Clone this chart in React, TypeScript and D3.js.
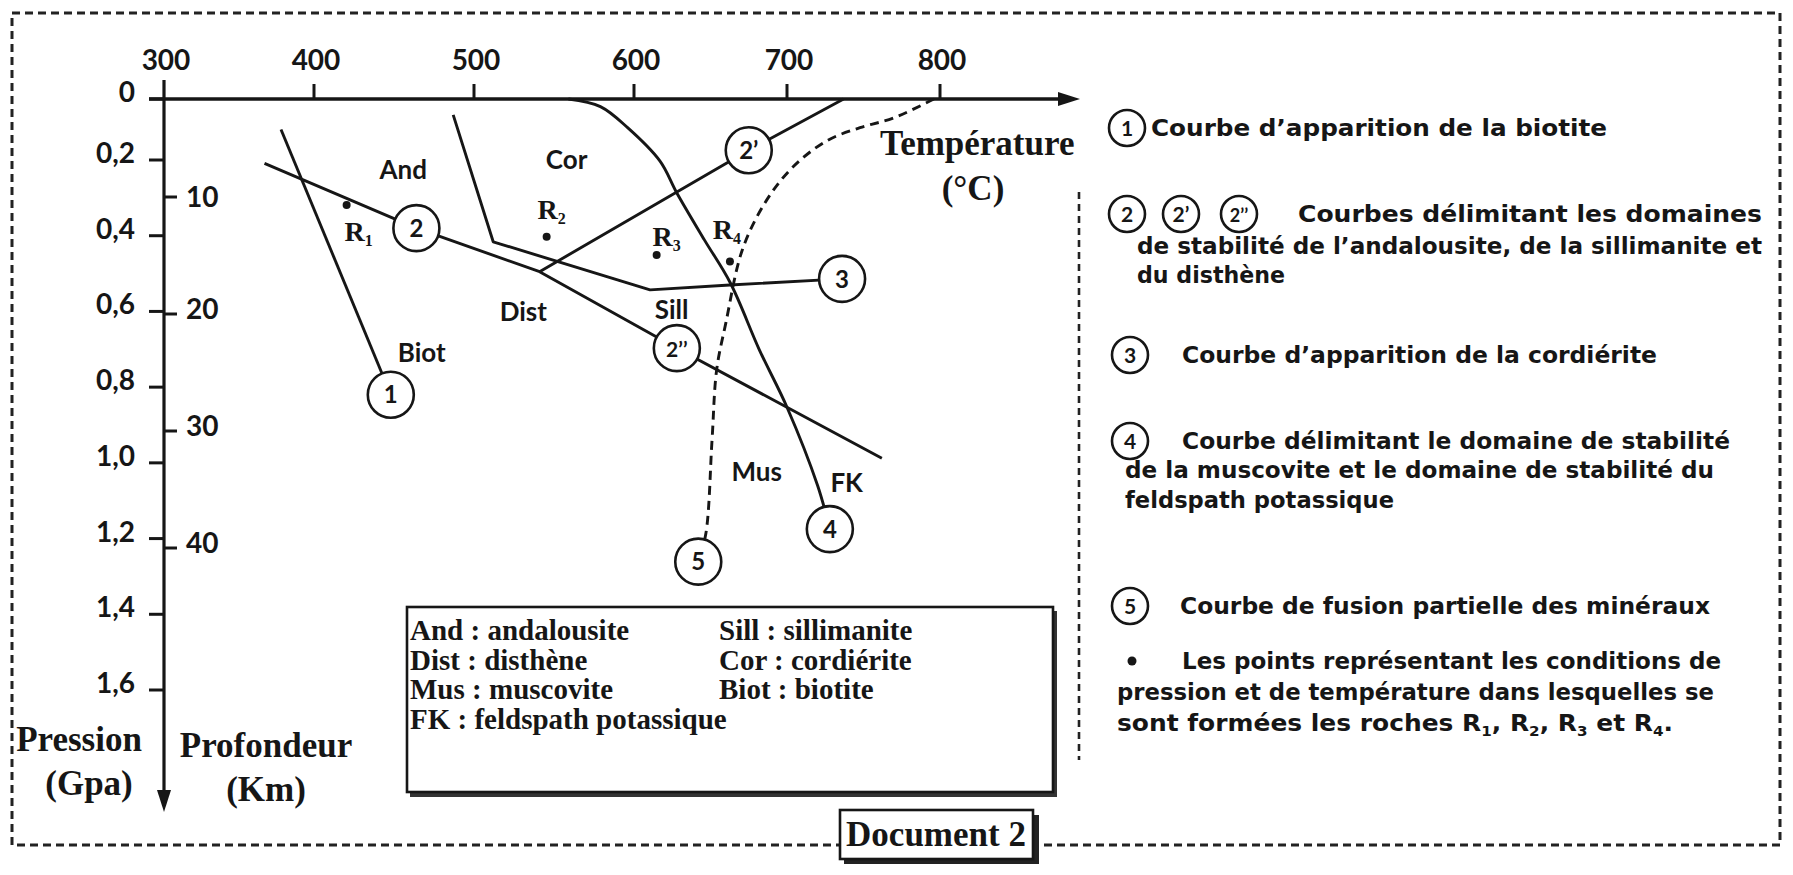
import React from "react";
import * as d3 from "d3";

const W = 1793;
const H = 875;

// ---------- data ----------
const tempTicks = [300, 400, 500, 600, 700, 800];
const pressureTicks = [0, 0.2, 0.4, 0.6, 0.8, 1.0, 1.2, 1.4, 1.6];
const pressureLabels = ["0", "0,2", "0,4", "0,6", "0,8", "1,0", "1,2", "1,4", "1,6"];
const depthTicks = [10, 20, 30, 40];

// curves: [temperature °C, pressure GPa]
const curve1: [number, number][] = [[378, 0.1], [448, 0.82]];
const curve2: [number, number][] = [[367, 0.209], [464, 0.38], [541, 0.495], [628, 0.697], [762, 0.988]];
const curve2p: [number, number][] = [[541, 0.495], [675, 0.168], [737, 0]];
const curve3: [number, number][] = [[487, 0.052], [512, 0.416], [610.5, 0.543], [662.7, 0.53], [736, 0.514]];
const curve4: [number, number][] = [[559, 0], [579, 0.025], [596, 0.094], [617, 0.203], [628, 0.287], [646, 0.411], [663, 0.525], [682, 0.702], [700, 0.853], [720, 1.06], [728, 1.175]];
const curve5: [number, number][] = [[796, 0], [769.5, 0.0625], [747.7, 0.094], [726, 0.137], [704, 0.218], [686.7, 0.306], [671, 0.435], [660, 0.631], [654, 0.755], [651, 0.94], [647, 1.186], [642, 1.261]];

const curveTags = ["1", "2", "2\u2019", "2\u2019\u2019", "3", "4", "5"];
const tagT = [448, 464, 675, 628, 736, 728, 642];
const tagP = [0.82, 0.38, 0.168, 0.697, 0.514, 1.175, 1.261];

const regionNames = ["And", "Cor", "Dist", "Sill", "Biot", "Mus", "FK"];
const regionT = [455.8, 557.9, 530.8, 624.6, 467.3, 680.2, 739];
const regionP = [0.226, 0.2, 0.601, 0.596, 0.711, 1.023, 1.054];

const rockIds = ["1", "2", "3", "4"];
const rockT = [420.4, 545.4, 614.8, 662.7];
const rockP = [0.319, 0.403, 0.451, 0.468];

const glossaryLeft = [["And", "andalousite"], ["Dist", "disthène"], ["Mus", "muscovite"], ["FK", "feldspath potassique"]];
const glossaryRight = [["Sill", "sillimanite"], ["Cor", "cordiérite"], ["Biot", "biotite"]];

const notes = [
  "Courbe d\u2019apparition de la biotite",
  "Courbes délimitant les domaines",
  "de stabilité de l\u2019andalousite, de la sillimanite et",
  "du disthène",
  "Courbe d\u2019apparition de la cordiérite",
  "Courbe délimitant le domaine de stabilité",
  "de la muscovite et le domaine de stabilité du",
  "feldspath potassique",
  "Courbe de fusion partielle des minéraux",
  "Les points représentant les conditions de",
  "pression et de température dans lesquelles se",
];

// ---------- layout ----------
const noteLayout = [
  { y: 128, x: 1151, x2: 1607, tags: ["1"], tx: [1127] },
  { y: 214, x: 1298, x2: 1762, tags: ["2", "2\u2019", "2\u2019\u2019"], tx: [1127, 1181, 1239] },
  { y: 246, x: 1137, x2: 1762 },
  { y: 275, x: 1137, x2: 1285 },
  { y: 355, x: 1182, x2: 1657, tags: ["3"], tx: [1130] },
  { y: 441, x: 1182, x2: 1730, tags: ["4"], tx: [1130] },
  { y: 470, x: 1125, x2: 1714 },
  { y: 500, x: 1125, x2: 1394 },
  { y: 606, x: 1180, x2: 1710, tags: ["5"], tx: [1130] },
  { y: 661, x: 1182, x2: 1721, bullet: 1132 },
  { y: 692, x: 1117, x2: 1714 },
];
const lastNoteY = 723;
const rockLabelDx = [12, 5, 10, -3];
const rockLabelDy = [27, -27, -18, -31];

const SERIF = "'Liberation Serif', 'Times New Roman', serif";
const SANS = "Lato, 'Open Sans', sans-serif";
const NOTE = "'DejaVu Sans', 'Open Sans', sans-serif";
const INK = "#161616";

const x = d3.scaleLinear().domain(tempTicks).range([164, 314, 474, 634, 787, 940]);
const y = d3.scaleLinear().domain([0, 0.2, 1.6]).range([99, 160, 690]);
const yDepth = d3.scaleLinear().domain([10, 40]).range([197, 548]);

const lin = d3.line<[number, number]>().x((d) => x(d[0])).y((d) => y(d[1]));
const smooth = d3
  .line<[number, number]>()
  .x((d) => x(d[0]))
  .y((d) => y(d[1]))
  .curve(d3.curveCatmullRom.alpha(0.5));

function Tag({ cx, cy, label, r = 23, fs = 24 }: { cx: number; cy: number; label: string; r?: number; fs?: number }) {
  return (
    <g>
      <circle cx={cx} cy={cy} r={r} fill="#fff" stroke={INK} strokeWidth={2.6} />
      <text x={cx} y={cy + fs * 0.36} textAnchor="middle" fontFamily={SANS} fontWeight={700} fontSize={label.length > 2 ? fs - 3 : fs} fill={INK}>
        {label}
      </text>
    </g>
  );
}

export default function App() {
  const axisY = y(0);
  const axisX = x(300);
  return (
    <svg width={W} height={H} viewBox={`0 0 ${W} ${H}`} style={{ display: "block", position: "absolute", left: 0, top: 0, background: "#fff" }}>
      <rect x={0} y={0} width={W} height={H} fill="#fff" />
      {/* outer dashed frame */}
      <rect x={12} y={13} width={1768} height={832} fill="none" stroke="#222" strokeWidth={3} strokeDasharray="8 5" />
      {/* vertical separator */}
      <line x1={1079} y1={192} x2={1079} y2={760} stroke="#222" strokeWidth={2.6} strokeDasharray="7 5" />

      {/* axes */}
      <line x1={149} y1={axisY} x2={1062} y2={axisY} stroke={INK} strokeWidth={3.4} />
      <polygon points={`1080,${axisY} 1058,${axisY - 7} 1058,${axisY + 7}`} fill={INK} />
      <line x1={axisX} y1={80} x2={axisX} y2={795} stroke={INK} strokeWidth={3.2} />
      <polygon points={`${axisX},812 ${axisX - 7},790 ${axisX + 7},790`} fill={INK} />

      {tempTicks.map((t) => (
        <g key={t}>
          {t !== 300 && <line x1={x(t)} y1={axisY} x2={x(t)} y2={axisY - 15} stroke={INK} strokeWidth={3} />}
          <text x={x(t) + 2} y={70} textAnchor="middle" fontFamily={SANS} fontWeight={700} fontSize={28} fill={INK}>
            {t}
          </text>
        </g>
      ))}
      {pressureTicks.map((p, i) => (
        <g key={p}>
          <line x1={149} y1={y(p)} x2={axisX} y2={y(p)} stroke={INK} strokeWidth={3} />
          <text x={135} y={y(p) + 3} textAnchor="end" fontFamily={SANS} fontWeight={700} fontSize={28} fill={INK}>
            {pressureLabels[i]}
          </text>
        </g>
      ))}
      {depthTicks.map((d) => (
        <g key={d}>
          <line x1={axisX} y1={yDepth(d)} x2={axisX + 13} y2={yDepth(d)} stroke={INK} strokeWidth={3} />
          <text x={186} y={yDepth(d) + (d === 10 ? 10 : 5)} fontFamily={SANS} fontWeight={700} fontSize={28} fill={INK}>
            {d}
          </text>
        </g>
      ))}

      {/* axis titles */}
      <g fontFamily={SERIF} fontWeight={700} fontSize={35} fill={INK}>
        <text x={880} y={155}>Température</text>
        <text x={973} y={200} textAnchor="middle">(°C)</text>
        <text x={79} y={751} textAnchor="middle">Pression</text>
        <text x={89} y={795} textAnchor="middle">(Gpa)</text>
        <text x={266} y={757} textAnchor="middle">Profondeur</text>
        <text x={266} y={801} textAnchor="middle">(Km)</text>
      </g>

      {/* curves */}
      <g fill="none" stroke={INK} strokeWidth={2.9} strokeLinejoin="round">
        <path d={lin(curve1) || ""} />
        <path d={lin(curve2) || ""} />
        <path d={lin(curve2p) || ""} />
        <path d={lin(curve3) || ""} />
        <path d={smooth(curve4) || ""} />
        <path d={smooth(curve5) || ""} strokeDasharray="9 6" />
      </g>

      {/* region labels */}
      {regionNames.map((n, i) => (
        <text key={n} x={x(regionT[i])} y={y(regionP[i]) + 9} textAnchor="middle" fontFamily={SANS} fontWeight={700} fontSize={26} fill={INK}>
          {n}
        </text>
      ))}

      {/* rock points */}
      {rockIds.map((id, i) => (
        <g key={id}>
          <circle cx={x(rockT[i])} cy={y(rockP[i])} r={4} fill={INK} />
          <text x={x(rockT[i]) + rockLabelDx[i]} y={y(rockP[i]) + rockLabelDy[i] + 9} textAnchor="middle" fontFamily={SERIF} fontWeight={700} fontSize={28} fill={INK}>
            R<tspan fontSize={16} dy={5}>{id}</tspan>
          </text>
        </g>
      ))}

      {/* curve tags */}
      {curveTags.map((c, i) => (
        <Tag key={c} cx={x(tagT[i])} cy={y(tagP[i])} label={c} />
      ))}

      {/* glossary box */}
      <rect x={410} y={611} width={647} height={186} fill="#333" />
      <rect x={407} y={607} width={646} height={185} fill="#fff" stroke={INK} strokeWidth={2.6} />
      <g fontFamily={SERIF} fontWeight={700} fontSize={29} fill={INK}>
        {glossaryLeft.map((g, i) => (
          <text key={g[0]} x={410} y={640 + i * 29.5}>
            {g[0]} : {g[1]}
          </text>
        ))}
        {glossaryRight.map((g, i) => (
          <text key={g[0]} x={719} y={640 + i * 29.5}>
            {g[0]} : {g[1]}
          </text>
        ))}
      </g>

      {/* Document 2 */}
      <rect x={844} y={815} width={195} height={49} fill="#222" />
      <rect x={840} y={810} width={193} height={49} fill="#fff" stroke={INK} strokeWidth={2.6} />
      <text x={936} y={846} textAnchor="middle" fontFamily={SERIF} fontWeight={700} fontSize={35} fill={INK}>
        Document 2
      </text>

      {/* right notes */}
      {noteLayout.map((l, i) => (
        <g key={i}>
          {l.tags &&
            l.tags.map((t, j) => <Tag key={t} cx={l.tx![j]} cy={l.y} label={t} r={18} fs={21} />)}
          {l.bullet && <circle cx={l.bullet} cy={l.y} r={4.5} fill={INK} />}
          <text x={l.x} y={l.y + 8} textLength={l.x2 - l.x} lengthAdjust="spacingAndGlyphs" fontFamily={NOTE} fontWeight={700} fontSize={23} fill={INK}>
            {notes[i]}
          </text>
        </g>
      ))}
      <text x={1117} y={lastNoteY + 8} textLength={556} lengthAdjust="spacingAndGlyphs" fontFamily={NOTE} fontWeight={700} fontSize={23} fill={INK}>
        sont formées les roches R<tspan fontSize={14} dy={5}>1</tspan>
        <tspan dy={-5}>, R</tspan>
        <tspan fontSize={14} dy={5}>2</tspan>
        <tspan dy={-5}>, R</tspan>
        <tspan fontSize={14} dy={5}>3</tspan>
        <tspan dy={-5}> et R</tspan>
        <tspan fontSize={14} dy={5}>4</tspan>
        <tspan dy={-5}>.</tspan>
      </text>
    </svg>
  );
}
